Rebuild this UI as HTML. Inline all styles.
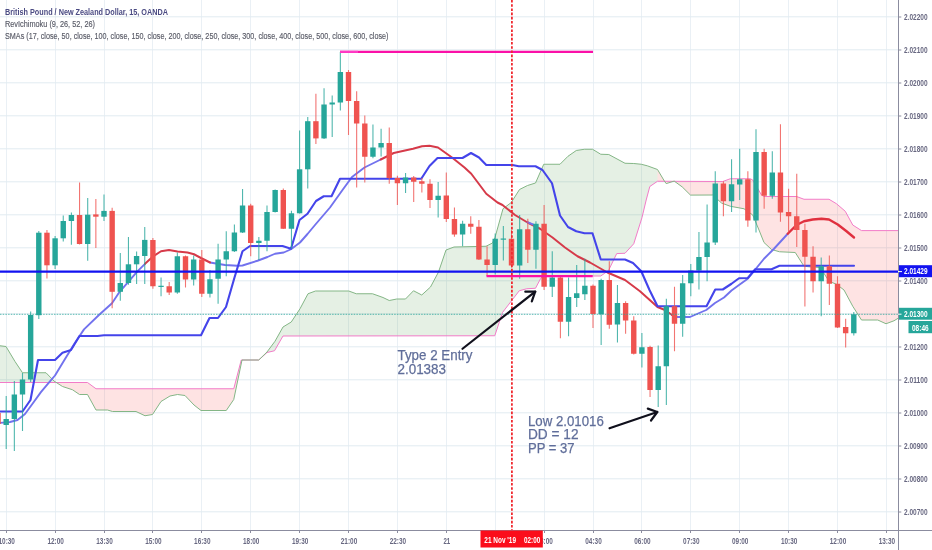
<!DOCTYPE html>
<html><head><meta charset="utf-8"><title>GBPNZD chart</title>
<style>
html,body{margin:0;padding:0;background:#fff;}
body{width:932px;height:550px;overflow:hidden;font-family:"Liberation Sans",sans-serif;}
svg{display:block;will-change:transform;}
text{font-family:"Liberation Sans",sans-serif;}
</style></head><body>
<svg width="932" height="550" viewBox="0 0 932 550">
<rect width="932" height="550" fill="#ffffff"/>
<defs>
<clipPath id="plot"><rect x="0" y="0" width="898.5" height="530.5"/></clipPath>
<clipPath id="cg"><rect x="-5" y="0" width="60.5" height="530"/><rect x="241" y="0" width="416.5" height="530"/></clipPath>
<clipPath id="cp"><rect x="55.5" y="0" width="185.5" height="530"/><rect x="657.5" y="0" width="241" height="530"/></clipPath>
</defs>

<g stroke="#eaf0f5" stroke-width="1" shape-rendering="crispEdges">
<line x1="6.5" y1="0" x2="6.5" y2="530"/>
<line x1="55.5" y1="0" x2="55.5" y2="530"/>
<line x1="104.5" y1="0" x2="104.5" y2="530"/>
<line x1="152.5" y1="0" x2="152.5" y2="530"/>
<line x1="201.5" y1="0" x2="201.5" y2="530"/>
<line x1="250.5" y1="0" x2="250.5" y2="530"/>
<line x1="299.5" y1="0" x2="299.5" y2="530"/>
<line x1="348.5" y1="0" x2="348.5" y2="530"/>
<line x1="397.5" y1="0" x2="397.5" y2="530"/>
<line x1="446.5" y1="0" x2="446.5" y2="530"/>
<line x1="495.5" y1="0" x2="495.5" y2="530"/>
<line x1="544.5" y1="0" x2="544.5" y2="530"/>
<line x1="593.5" y1="0" x2="593.5" y2="530"/>
<line x1="641.5" y1="0" x2="641.5" y2="530"/>
<line x1="690.5" y1="0" x2="690.5" y2="530"/>
<line x1="739.5" y1="0" x2="739.5" y2="530"/>
<line x1="788.5" y1="0" x2="788.5" y2="530"/>
<line x1="837.5" y1="0" x2="837.5" y2="530"/>
<line x1="886.5" y1="0" x2="886.5" y2="530"/>
<line x1="0" y1="16.80" x2="898" y2="16.80" shape-rendering="auto" stroke="#e2ebf1"/>
<line x1="0" y1="49.80" x2="898" y2="49.80" shape-rendering="auto" stroke="#e2ebf1"/>
<line x1="0" y1="82.80" x2="898" y2="82.80" shape-rendering="auto" stroke="#e2ebf1"/>
<line x1="0" y1="115.80" x2="898" y2="115.80" shape-rendering="auto" stroke="#e2ebf1"/>
<line x1="0" y1="148.80" x2="898" y2="148.80" shape-rendering="auto" stroke="#e2ebf1"/>
<line x1="0" y1="181.80" x2="898" y2="181.80" shape-rendering="auto" stroke="#e2ebf1"/>
<line x1="0" y1="214.80" x2="898" y2="214.80" shape-rendering="auto" stroke="#e2ebf1"/>
<line x1="0" y1="247.80" x2="898" y2="247.80" shape-rendering="auto" stroke="#e2ebf1"/>
<line x1="0" y1="280.80" x2="898" y2="280.80" shape-rendering="auto" stroke="#e2ebf1"/>
<line x1="0" y1="313.80" x2="898" y2="313.80" shape-rendering="auto" stroke="#e2ebf1"/>
<line x1="0" y1="346.80" x2="898" y2="346.80" shape-rendering="auto" stroke="#e2ebf1"/>
<line x1="0" y1="379.80" x2="898" y2="379.80" shape-rendering="auto" stroke="#e2ebf1"/>
<line x1="0" y1="412.80" x2="898" y2="412.80" shape-rendering="auto" stroke="#e2ebf1"/>
<line x1="0" y1="445.80" x2="898" y2="445.80" shape-rendering="auto" stroke="#e2ebf1"/>
<line x1="0" y1="478.80" x2="898" y2="478.80" shape-rendering="auto" stroke="#e2ebf1"/>
<line x1="0" y1="511.80" x2="898" y2="511.80" shape-rendering="auto" stroke="#e2ebf1"/>
</g>
<g clip-path="url(#plot)">
<polygon points="-2,345.5 6,346.5 15,361.5 22.5,372.75 46,372.75 54,381 62.5,386.5 72.5,389.75 79.5,394.5 87.5,394.5 96,410 107.5,410 112.5,411.5 136,411.5 145,415.75 152.5,414.5 161,401.5 170,396 177.5,394.5 185,395.5 194,405 201,410.5 226.25,410.5 233.75,399.5 242,360 258.75,360 267,352 275,341.25 283,327 291.25,322 300,308.75 308,293.75 315.5,291 348.75,291 356.25,293.75 372.5,293.75 383,297.5 389.25,300.5 396.75,299 405.5,299 413.5,290.75 421.75,295 430.5,287 438.5,272 446,250 454,247 486,246.25 492.5,243 495,237.5 503,208.75 511.25,202.5 519.5,189.5 527.5,185.5 535.5,183 543.75,164.25 560,164.25 568,156.25 576.25,150.5 584.5,149.25 592.5,149.25 600.75,154.25 608.75,154.5 625,163.25 633.75,163.5 641.25,164.25 647.3,165.8 657.5,169.5 664.4,181.1 666.2,183.6 674.2,181.1 682.2,186.9 690.5,195.1 712.75,195 721.5,203 730.25,206.25 744,208.75 752.75,215 759,230 764,242.5 771.5,249.5 779.5,251.75 795.25,252.5 804,266.25 811.5,267 820.25,267.5 829,281.25 836.5,284.25 844,290 852.75,306.25 861.5,320 877.75,320 886,323.75 894,320.75 898.5,318 898.5,230.6 861.5,230.6 852.75,225 845.25,211.25 836.5,203.75 829,199.25 804,199.25 796.5,196.5 764,196.5 761.5,195 752.75,180 750.25,178.75 730.25,178.75 722.75,181.5 657.5,181.25 649.8,186.5 646.2,200 642,217.5 633.75,243.75 625,253.25 616.7,253.6 608.5,270.5 600.75,276 543,276 540.5,278.75 535.5,288.25 526.75,288.75 519.25,290.75 502.5,312.5 494.75,335.75 283,336 274.5,350.75 267,352.5 258.75,360 241.25,360 233.75,388.75 96,388.75 87.5,382.5 -2,382.5" fill="rgb(82,155,75)" fill-opacity="0.15" clip-path="url(#cg)"/>
<polygon points="-2,345.5 6,346.5 15,361.5 22.5,372.75 46,372.75 54,381 62.5,386.5 72.5,389.75 79.5,394.5 87.5,394.5 96,410 107.5,410 112.5,411.5 136,411.5 145,415.75 152.5,414.5 161,401.5 170,396 177.5,394.5 185,395.5 194,405 201,410.5 226.25,410.5 233.75,399.5 242,360 258.75,360 267,352 275,341.25 283,327 291.25,322 300,308.75 308,293.75 315.5,291 348.75,291 356.25,293.75 372.5,293.75 383,297.5 389.25,300.5 396.75,299 405.5,299 413.5,290.75 421.75,295 430.5,287 438.5,272 446,250 454,247 486,246.25 492.5,243 495,237.5 503,208.75 511.25,202.5 519.5,189.5 527.5,185.5 535.5,183 543.75,164.25 560,164.25 568,156.25 576.25,150.5 584.5,149.25 592.5,149.25 600.75,154.25 608.75,154.5 625,163.25 633.75,163.5 641.25,164.25 647.3,165.8 657.5,169.5 664.4,181.1 666.2,183.6 674.2,181.1 682.2,186.9 690.5,195.1 712.75,195 721.5,203 730.25,206.25 744,208.75 752.75,215 759,230 764,242.5 771.5,249.5 779.5,251.75 795.25,252.5 804,266.25 811.5,267 820.25,267.5 829,281.25 836.5,284.25 844,290 852.75,306.25 861.5,320 877.75,320 886,323.75 894,320.75 898.5,318 898.5,230.6 861.5,230.6 852.75,225 845.25,211.25 836.5,203.75 829,199.25 804,199.25 796.5,196.5 764,196.5 761.5,195 752.75,180 750.25,178.75 730.25,178.75 722.75,181.5 657.5,181.25 649.8,186.5 646.2,200 642,217.5 633.75,243.75 625,253.25 616.7,253.6 608.5,270.5 600.75,276 543,276 540.5,278.75 535.5,288.25 526.75,288.75 519.25,290.75 502.5,312.5 494.75,335.75 283,336 274.5,350.75 267,352.5 258.75,360 241.25,360 233.75,388.75 96,388.75 87.5,382.5 -2,382.5" fill="rgb(248,68,68)" fill-opacity="0.15" clip-path="url(#cp)"/>
<path d="M-2 382.5 L87.5 382.5 L96 388.75 L233.75 388.75 L241.25 360 L258.75 360 L267 352.5 L274.5 350.75 L283 336 L494.75 335.75 L502.5 312.5 L519.25 290.75 L526.75 288.75 L535.5 288.25 L540.5 278.75 L543 276 L600.75 276 L608.5 270.5 L616.7 253.6 L625 253.25 L633.75 243.75 L642 217.5 L646.2 200 L649.8 186.5 L657.5 181.25 L722.75 181.5 L730.25 178.75 L750.25 178.75 L752.75 180 L761.5 195 L764 196.5 L796.5 196.5 L804 199.25 L829 199.25 L836.5 203.75 L845.25 211.25 L852.75 225 L861.5 230.6 L898.5 230.6" fill="none" stroke="#f27cc8" stroke-width="1" stroke-linejoin="round"/>
<path d="M-2 345.5 L6 346.5 L15 361.5 L22.5 372.75 L46 372.75 L54 381 L62.5 386.5 L72.5 389.75 L79.5 394.5 L87.5 394.5 L96 410 L107.5 410 L112.5 411.5 L136 411.5 L145 415.75 L152.5 414.5 L161 401.5 L170 396 L177.5 394.5 L185 395.5 L194 405 L201 410.5 L226.25 410.5 L233.75 399.5 L242 360 L258.75 360 L267 352 L275 341.25 L283 327 L291.25 322 L300 308.75 L308 293.75 L315.5 291 L348.75 291 L356.25 293.75 L372.5 293.75 L383 297.5 L389.25 300.5 L396.75 299 L405.5 299 L413.5 290.75 L421.75 295 L430.5 287 L438.5 272 L446 250 L454 247 L486 246.25 L492.5 243 L495 237.5 L503 208.75 L511.25 202.5 L519.5 189.5 L527.5 185.5 L535.5 183 L543.75 164.25 L560 164.25 L568 156.25 L576.25 150.5 L584.5 149.25 L592.5 149.25 L600.75 154.25 L608.75 154.5 L625 163.25 L633.75 163.5 L641.25 164.25 L647.3 165.8 L657.5 169.5 L664.4 181.1 L666.2 183.6 L674.2 181.1 L682.2 186.9 L690.5 195.1 L712.75 195 L721.5 203 L730.25 206.25 L744 208.75 L752.75 215 L759 230 L764 242.5 L771.5 249.5 L779.5 251.75 L795.25 252.5 L804 266.25 L811.5 267 L820.25 267.5 L829 281.25 L836.5 284.25 L844 290 L852.75 306.25 L861.5 320 L877.75 320 L886 323.75 L894 320.75 L898.5 318" fill="none" stroke="#84b686" stroke-width="1" stroke-linejoin="round"/>
<path d="M-2 423 L10 422 L17.5 420 L25 414 L32.7 403.5 L40.9 392.1 L49.1 382.3 L55 375.5 L65 359 L75 342.75 L84 329.4 L99.2 314.7 L112 303.2 L119.6 291.8 L128.5 281.6 L137.4 271.4 L145 263.8" fill="none" stroke="#7272ee" stroke-width="1.9" stroke-linejoin="round" stroke-linecap="round"/>
<path d="M210 262.5 L225 265 L237.5 265.75 L242.5 265.5 L257.5 260.75 L267.5 257 L275 253.75 L283.75 252.5 L291 249.25 L300 242.5 L307.5 234 L315 225 L330 207.5 L342.5 190 L352 177 L364.5 167.5 L380.75 159.5" fill="none" stroke="#7272ee" stroke-width="1.9" stroke-linejoin="round" stroke-linecap="round"/>
<path d="M672 315 L677.5 317 L690 317 L697.5 313.75 L706.25 310 L715 303 L724 297.5 L731.5 290.5 L739 285 L747.75 278.75 L755.25 269.5 L764 258.75 L774 248.75 L787.75 233.75" fill="none" stroke="#7272ee" stroke-width="1.9" stroke-linejoin="round" stroke-linecap="round"/>
<path d="M145 263.8 L152.7 256.7 L161 251.25 L169 250 L177.5 251.5 L187.5 252.5 L194 254.25 L201 258 L210 262.5" fill="none" stroke="#d63a49" stroke-width="2" stroke-linejoin="round" stroke-linecap="round"/>
<path d="M380.75 159.5 L393.75 153 L405 150.5 L413 148.75 L422 146.25 L429.5 145.75 L438 147.5 L452 157.5 L464.5 167.5 L471.25 173.75 L486.25 193.75 L497.5 202.5 L502.5 205 L515 215 L527.5 222.5 L540 228.75 L552.5 237.5 L565 247.5 L577.5 256.25 L590 262.5 L607.5 272.5 L625 280 L640 291.25 L657.5 307 L665 310 L672 315" fill="none" stroke="#d63a49" stroke-width="2" stroke-linejoin="round" stroke-linecap="round"/>
<path d="M787.75 233.75 L796.5 225 L804 221.25 L812.75 219.5 L821.5 218.75 L829 219.5 L837.75 224.5 L846.5 231.25 L854 237.5" fill="none" stroke="#e0303f" stroke-width="2.4" stroke-linejoin="round" stroke-linecap="round"/>
<line x1="527.5" y1="222.3" x2="533.5" y2="224.6" stroke="#7272ee" stroke-width="2" stroke-linecap="round"/>
<path d="M-2 411.5 L22.5 411.5 L30.5 400 L38 360 L55 360 L62.5 352.7 L71 350 L79.5 336 L97.5 336 L104 335.25 L201 335.25 L209.5 318 L218 318 L226 307 L234.5 277.5 L242.5 251.25 L250 246 L282.5 246 L291 248.75 L299.5 220 L307.5 213.75 L316 201 L323.75 196.25 L331.5 196.25 L340 178.75 L421.25 178.75 L429.5 166 L437.5 158 L462.5 158 L471 153 L479 157.5 L486.25 165 L512.5 165 L518.75 166.25 L535.5 166.25 L542.5 170 L552 183.25 L560 215.5 L568 227 L576.25 231.25 L584.5 233.25 L592.5 233.25 L600.75 259.5 L625 259.5 L633 263 L641.25 271.25 L649.5 290 L657.5 306.25 L706.5 306.25 L715.25 289.5 L722.75 289.5 L731.5 283.75 L739 278.25 L747.75 278 L755.25 269.25 L771.5 269.25 L779.5 265.75 L854 265.75" fill="none" stroke="#4444ea" stroke-width="2.1" stroke-linejoin="round" stroke-linecap="round"/>
<line x1="-1.95" y1="410" x2="-1.95" y2="428" stroke="#ef5350" stroke-width="1.1" opacity="0.8"/>
<rect x="-4.65" y="413" width="5.4" height="11" fill="#ef5350"/>
<line x1="6.20" y1="396" x2="6.20" y2="449" stroke="#26a69a" stroke-width="1.1" opacity="0.8"/>
<rect x="3.50" y="419" width="5.4" height="6" fill="#26a69a"/>
<line x1="14.35" y1="381" x2="14.35" y2="451" stroke="#26a69a" stroke-width="1.1" opacity="0.8"/>
<rect x="11.65" y="394.5" width="5.4" height="24.5" fill="#26a69a"/>
<line x1="22.50" y1="373" x2="22.50" y2="431" stroke="#26a69a" stroke-width="1.1" opacity="0.8"/>
<rect x="19.80" y="379.5" width="5.4" height="15" fill="#26a69a"/>
<line x1="30.65" y1="311.5" x2="30.65" y2="382" stroke="#26a69a" stroke-width="1.1" opacity="0.8"/>
<rect x="27.95" y="315" width="5.4" height="64.5" fill="#26a69a"/>
<line x1="38.80" y1="231" x2="38.80" y2="319" stroke="#26a69a" stroke-width="1.1" opacity="0.8"/>
<rect x="36.10" y="232.7" width="5.4" height="82.5" fill="#26a69a"/>
<line x1="46.95" y1="230" x2="46.95" y2="278.5" stroke="#ef5350" stroke-width="1.1" opacity="0.8"/>
<rect x="44.25" y="232.7" width="5.4" height="32.6" fill="#ef5350"/>
<line x1="55.10" y1="236" x2="55.10" y2="269" stroke="#26a69a" stroke-width="1.1" opacity="0.8"/>
<rect x="52.40" y="238.3" width="5.4" height="27" fill="#26a69a"/>
<line x1="63.25" y1="215.4" x2="63.25" y2="241.4" stroke="#26a69a" stroke-width="1.1" opacity="0.8"/>
<rect x="60.55" y="221" width="5.4" height="17.3" fill="#26a69a"/>
<line x1="71.40" y1="212.4" x2="71.40" y2="244.7" stroke="#26a69a" stroke-width="1.1" opacity="0.8"/>
<rect x="68.70" y="215" width="5.4" height="6" fill="#26a69a"/>
<line x1="79.55" y1="182.5" x2="79.55" y2="244.5" stroke="#ef5350" stroke-width="1.1" opacity="0.8"/>
<rect x="76.85" y="215" width="5.4" height="29" fill="#ef5350"/>
<line x1="87.70" y1="198" x2="87.70" y2="260.7" stroke="#26a69a" stroke-width="1.1" opacity="0.8"/>
<rect x="85.00" y="214.7" width="5.4" height="29.3" fill="#26a69a"/>
<line x1="95.85" y1="199" x2="95.85" y2="248" stroke="#ef5350" stroke-width="1.1" opacity="0.8"/>
<rect x="93.15" y="214.4" width="5.4" height="2.3" fill="#ef5350"/>
<line x1="104.00" y1="194.6" x2="104.00" y2="221" stroke="#26a69a" stroke-width="1.1" opacity="0.8"/>
<rect x="101.30" y="210.9" width="5.4" height="5.8" fill="#26a69a"/>
<line x1="112.15" y1="207.8" x2="112.15" y2="308.3" stroke="#ef5350" stroke-width="1.1" opacity="0.8"/>
<rect x="109.45" y="210.9" width="5.4" height="80.9" fill="#ef5350"/>
<line x1="120.30" y1="253" x2="120.30" y2="300.7" stroke="#26a69a" stroke-width="1.1" opacity="0.8"/>
<rect x="117.60" y="283" width="5.4" height="8.8" fill="#26a69a"/>
<line x1="128.45" y1="237" x2="128.45" y2="284.7" stroke="#26a69a" stroke-width="1.1" opacity="0.8"/>
<rect x="125.75" y="264.3" width="5.4" height="18.7" fill="#26a69a"/>
<line x1="136.60" y1="251.6" x2="136.60" y2="284" stroke="#26a69a" stroke-width="1.1" opacity="0.8"/>
<rect x="133.90" y="256" width="5.4" height="8.3" fill="#26a69a"/>
<line x1="144.75" y1="227" x2="144.75" y2="284" stroke="#26a69a" stroke-width="1.1" opacity="0.8"/>
<rect x="142.05" y="239.9" width="5.4" height="16.1" fill="#26a69a"/>
<line x1="152.90" y1="238" x2="152.90" y2="288.75" stroke="#ef5350" stroke-width="1.1" opacity="0.8"/>
<rect x="150.20" y="240" width="5.4" height="46.25" fill="#ef5350"/>
<line x1="161.05" y1="277.5" x2="161.05" y2="296.25" stroke="#26a69a" stroke-width="1.1" opacity="0.8"/>
<rect x="158.35" y="285.75" width="5.4" height="1.2" fill="#26a69a"/>
<line x1="169.20" y1="282" x2="169.20" y2="295" stroke="#ef5350" stroke-width="1.1" opacity="0.8"/>
<rect x="166.50" y="286.25" width="5.4" height="6.25" fill="#ef5350"/>
<line x1="177.35" y1="252.5" x2="177.35" y2="293.75" stroke="#26a69a" stroke-width="1.1" opacity="0.8"/>
<rect x="174.65" y="256.25" width="5.4" height="36.25" fill="#26a69a"/>
<line x1="185.50" y1="255.5" x2="185.50" y2="287.5" stroke="#ef5350" stroke-width="1.1" opacity="0.8"/>
<rect x="182.80" y="256.25" width="5.4" height="23.25" fill="#ef5350"/>
<line x1="193.65" y1="255.5" x2="193.65" y2="285.5" stroke="#26a69a" stroke-width="1.1" opacity="0.8"/>
<rect x="190.95" y="259.5" width="5.4" height="20" fill="#26a69a"/>
<line x1="201.80" y1="250" x2="201.80" y2="297" stroke="#ef5350" stroke-width="1.1" opacity="0.8"/>
<rect x="199.10" y="259.5" width="5.4" height="34.25" fill="#ef5350"/>
<line x1="209.95" y1="270" x2="209.95" y2="297.5" stroke="#26a69a" stroke-width="1.1" opacity="0.8"/>
<rect x="207.25" y="279.25" width="5.4" height="14.5" fill="#26a69a"/>
<line x1="218.10" y1="243.75" x2="218.10" y2="303.75" stroke="#26a69a" stroke-width="1.1" opacity="0.8"/>
<rect x="215.40" y="259.5" width="5.4" height="19.25" fill="#26a69a"/>
<line x1="226.25" y1="231.25" x2="226.25" y2="276.25" stroke="#26a69a" stroke-width="1.1" opacity="0.8"/>
<rect x="223.55" y="251.25" width="5.4" height="8.25" fill="#26a69a"/>
<line x1="234.40" y1="224.5" x2="234.40" y2="252" stroke="#26a69a" stroke-width="1.1" opacity="0.8"/>
<rect x="231.70" y="232.5" width="5.4" height="18.75" fill="#26a69a"/>
<line x1="242.55" y1="189" x2="242.55" y2="233" stroke="#26a69a" stroke-width="1.1" opacity="0.8"/>
<rect x="239.85" y="205.5" width="5.4" height="27" fill="#26a69a"/>
<line x1="250.70" y1="203.75" x2="250.70" y2="256.25" stroke="#ef5350" stroke-width="1.1" opacity="0.8"/>
<rect x="248.00" y="205.5" width="5.4" height="37.5" fill="#ef5350"/>
<line x1="258.85" y1="237" x2="258.85" y2="260" stroke="#26a69a" stroke-width="1.1" opacity="0.8"/>
<rect x="256.15" y="240.75" width="5.4" height="2.25" fill="#26a69a"/>
<line x1="267.00" y1="205.5" x2="267.00" y2="251.25" stroke="#26a69a" stroke-width="1.1" opacity="0.8"/>
<rect x="264.30" y="212" width="5.4" height="28.75" fill="#26a69a"/>
<line x1="275.15" y1="189.5" x2="275.15" y2="212.5" stroke="#26a69a" stroke-width="1.1" opacity="0.8"/>
<rect x="272.45" y="190" width="5.4" height="22" fill="#26a69a"/>
<line x1="283.30" y1="188.4" x2="283.30" y2="229" stroke="#ef5350" stroke-width="1.1" opacity="0.8"/>
<rect x="280.60" y="190" width="5.4" height="38.75" fill="#ef5350"/>
<line x1="291.45" y1="210.8" x2="291.45" y2="248.75" stroke="#26a69a" stroke-width="1.1" opacity="0.8"/>
<rect x="288.75" y="213.3" width="5.4" height="15.45" fill="#26a69a"/>
<line x1="299.60" y1="130.4" x2="299.60" y2="213.5" stroke="#26a69a" stroke-width="1.1" opacity="0.8"/>
<rect x="296.90" y="169.3" width="5.4" height="44" fill="#26a69a"/>
<line x1="307.75" y1="117" x2="307.75" y2="188.4" stroke="#26a69a" stroke-width="1.1" opacity="0.8"/>
<rect x="305.05" y="121.2" width="5.4" height="48.1" fill="#26a69a"/>
<line x1="315.90" y1="93.75" x2="315.90" y2="144" stroke="#ef5350" stroke-width="1.1" opacity="0.8"/>
<rect x="313.20" y="121.2" width="5.4" height="17.2" fill="#ef5350"/>
<line x1="324.05" y1="88.25" x2="324.05" y2="139" stroke="#26a69a" stroke-width="1.1" opacity="0.8"/>
<rect x="321.35" y="104.5" width="5.4" height="33.9" fill="#26a69a"/>
<line x1="332.20" y1="95.5" x2="332.20" y2="137" stroke="#26a69a" stroke-width="1.1" opacity="0.8"/>
<rect x="329.50" y="102.5" width="5.4" height="2" fill="#26a69a"/>
<line x1="340.35" y1="52" x2="340.35" y2="110.5" stroke="#26a69a" stroke-width="1.1" opacity="0.8"/>
<rect x="337.65" y="72" width="5.4" height="30.5" fill="#26a69a"/>
<line x1="348.50" y1="70" x2="348.50" y2="135" stroke="#ef5350" stroke-width="1.1" opacity="0.8"/>
<rect x="345.80" y="72" width="5.4" height="29" fill="#ef5350"/>
<line x1="356.65" y1="91.25" x2="356.65" y2="187.5" stroke="#ef5350" stroke-width="1.1" opacity="0.8"/>
<rect x="353.95" y="101" width="5.4" height="22.5" fill="#ef5350"/>
<line x1="364.80" y1="115.5" x2="364.80" y2="182.5" stroke="#ef5350" stroke-width="1.1" opacity="0.8"/>
<rect x="362.10" y="123.5" width="5.4" height="33.25" fill="#ef5350"/>
<line x1="372.95" y1="124.5" x2="372.95" y2="158.25" stroke="#26a69a" stroke-width="1.1" opacity="0.8"/>
<rect x="370.25" y="147.5" width="5.4" height="9.25" fill="#26a69a"/>
<line x1="381.10" y1="128.75" x2="381.10" y2="156.5" stroke="#26a69a" stroke-width="1.1" opacity="0.8"/>
<rect x="378.40" y="143" width="5.4" height="4.5" fill="#26a69a"/>
<line x1="389.25" y1="127.5" x2="389.25" y2="183.75" stroke="#ef5350" stroke-width="1.1" opacity="0.8"/>
<rect x="386.55" y="143" width="5.4" height="35" fill="#ef5350"/>
<line x1="397.40" y1="175.75" x2="397.40" y2="205" stroke="#ef5350" stroke-width="1.1" opacity="0.8"/>
<rect x="394.70" y="178" width="5.4" height="5.25" fill="#ef5350"/>
<line x1="405.55" y1="173" x2="405.55" y2="193" stroke="#26a69a" stroke-width="1.1" opacity="0.8"/>
<rect x="402.85" y="177.5" width="5.4" height="5.75" fill="#26a69a"/>
<line x1="413.70" y1="176" x2="413.70" y2="202" stroke="#ef5350" stroke-width="1.1" opacity="0.8"/>
<rect x="411.00" y="177.5" width="5.4" height="4.25" fill="#ef5350"/>
<line x1="421.85" y1="178" x2="421.85" y2="192.5" stroke="#ef5350" stroke-width="1.1" opacity="0.8"/>
<rect x="419.15" y="181.25" width="5.4" height="2.5" fill="#ef5350"/>
<line x1="430.00" y1="179.25" x2="430.00" y2="208" stroke="#ef5350" stroke-width="1.1" opacity="0.8"/>
<rect x="427.30" y="183.75" width="5.4" height="16.25" fill="#ef5350"/>
<line x1="438.15" y1="182" x2="438.15" y2="217.5" stroke="#26a69a" stroke-width="1.1" opacity="0.8"/>
<rect x="435.45" y="195.75" width="5.4" height="4.25" fill="#26a69a"/>
<line x1="446.30" y1="172.5" x2="446.30" y2="222" stroke="#ef5350" stroke-width="1.1" opacity="0.8"/>
<rect x="443.60" y="195.5" width="5.4" height="23.5" fill="#ef5350"/>
<line x1="454.45" y1="207.5" x2="454.45" y2="236.75" stroke="#ef5350" stroke-width="1.1" opacity="0.8"/>
<rect x="451.75" y="219" width="5.4" height="15.5" fill="#ef5350"/>
<line x1="462.60" y1="220.75" x2="462.60" y2="246.25" stroke="#26a69a" stroke-width="1.1" opacity="0.8"/>
<rect x="459.90" y="223.75" width="5.4" height="10.75" fill="#26a69a"/>
<line x1="470.75" y1="216.25" x2="470.75" y2="233.75" stroke="#ef5350" stroke-width="1.1" opacity="0.8"/>
<rect x="468.05" y="223.75" width="5.4" height="3" fill="#ef5350"/>
<line x1="478.90" y1="220" x2="478.90" y2="260" stroke="#ef5350" stroke-width="1.1" opacity="0.8"/>
<rect x="476.20" y="226.75" width="5.4" height="32.75" fill="#ef5350"/>
<line x1="487.05" y1="246.25" x2="487.05" y2="276" stroke="#ef5350" stroke-width="1.1" opacity="0.8"/>
<rect x="484.35" y="259.5" width="5.4" height="5.5" fill="#ef5350"/>
<line x1="495.20" y1="233.5" x2="495.20" y2="274.5" stroke="#26a69a" stroke-width="1.1" opacity="0.8"/>
<rect x="492.50" y="238.75" width="5.4" height="26.25" fill="#26a69a"/>
<line x1="503.35" y1="226" x2="503.35" y2="260.5" stroke="#26a69a" stroke-width="1.1" opacity="0.8"/>
<rect x="500.65" y="238.5" width="5.4" height="1.2" fill="#26a69a"/>
<line x1="511.50" y1="230" x2="511.50" y2="267.5" stroke="#ef5350" stroke-width="1.1" opacity="0.8"/>
<rect x="508.80" y="238.75" width="5.4" height="26.75" fill="#ef5350"/>
<line x1="519.65" y1="215" x2="519.65" y2="278.75" stroke="#26a69a" stroke-width="1.1" opacity="0.8"/>
<rect x="516.95" y="229.25" width="5.4" height="36.25" fill="#26a69a"/>
<line x1="527.80" y1="218.75" x2="527.80" y2="263" stroke="#ef5350" stroke-width="1.1" opacity="0.8"/>
<rect x="525.10" y="229.25" width="5.4" height="20.5" fill="#ef5350"/>
<line x1="535.95" y1="221.25" x2="535.95" y2="268.75" stroke="#26a69a" stroke-width="1.1" opacity="0.8"/>
<rect x="533.25" y="223.75" width="5.4" height="26" fill="#26a69a"/>
<line x1="544.10" y1="205" x2="544.10" y2="290" stroke="#ef5350" stroke-width="1.1" opacity="0.8"/>
<rect x="541.40" y="223.75" width="5.4" height="63" fill="#ef5350"/>
<line x1="552.25" y1="251.25" x2="552.25" y2="297" stroke="#26a69a" stroke-width="1.1" opacity="0.8"/>
<rect x="549.55" y="277.5" width="5.4" height="9.25" fill="#26a69a"/>
<line x1="560.40" y1="276" x2="560.40" y2="338.25" stroke="#ef5350" stroke-width="1.1" opacity="0.8"/>
<rect x="557.70" y="277.5" width="5.4" height="44.25" fill="#ef5350"/>
<line x1="568.55" y1="277.5" x2="568.55" y2="336.25" stroke="#26a69a" stroke-width="1.1" opacity="0.8"/>
<rect x="565.85" y="297" width="5.4" height="24.75" fill="#26a69a"/>
<line x1="576.70" y1="265" x2="576.70" y2="307" stroke="#26a69a" stroke-width="1.1" opacity="0.8"/>
<rect x="574.00" y="293.25" width="5.4" height="4.75" fill="#26a69a"/>
<line x1="584.85" y1="258.75" x2="584.85" y2="300" stroke="#26a69a" stroke-width="1.1" opacity="0.8"/>
<rect x="582.15" y="285.75" width="5.4" height="8.5" fill="#26a69a"/>
<line x1="593.00" y1="284.5" x2="593.00" y2="328" stroke="#ef5350" stroke-width="1.1" opacity="0.8"/>
<rect x="590.30" y="285.75" width="5.4" height="28.25" fill="#ef5350"/>
<line x1="601.15" y1="278.75" x2="601.15" y2="345" stroke="#26a69a" stroke-width="1.1" opacity="0.8"/>
<rect x="598.45" y="280" width="5.4" height="34.25" fill="#26a69a"/>
<line x1="609.30" y1="261.25" x2="609.30" y2="328.75" stroke="#ef5350" stroke-width="1.1" opacity="0.8"/>
<rect x="606.60" y="280" width="5.4" height="44.75" fill="#ef5350"/>
<line x1="617.45" y1="285" x2="617.45" y2="342.5" stroke="#26a69a" stroke-width="1.1" opacity="0.8"/>
<rect x="614.75" y="303" width="5.4" height="21.5" fill="#26a69a"/>
<line x1="625.60" y1="301.25" x2="625.60" y2="333.75" stroke="#ef5350" stroke-width="1.1" opacity="0.8"/>
<rect x="622.90" y="303" width="5.4" height="17.5" fill="#ef5350"/>
<line x1="633.75" y1="316.25" x2="633.75" y2="354.5" stroke="#ef5350" stroke-width="1.1" opacity="0.8"/>
<rect x="631.05" y="320.5" width="5.4" height="33.25" fill="#ef5350"/>
<line x1="641.90" y1="333" x2="641.90" y2="367.5" stroke="#26a69a" stroke-width="1.1" opacity="0.8"/>
<rect x="639.20" y="347.25" width="5.4" height="6.5" fill="#26a69a"/>
<line x1="650.05" y1="345.75" x2="650.05" y2="397" stroke="#ef5350" stroke-width="1.1" opacity="0.8"/>
<rect x="647.35" y="347" width="5.4" height="43" fill="#ef5350"/>
<line x1="658.20" y1="345.5" x2="658.20" y2="407" stroke="#26a69a" stroke-width="1.1" opacity="0.8"/>
<rect x="655.50" y="366.25" width="5.4" height="23.75" fill="#26a69a"/>
<line x1="666.35" y1="298.75" x2="666.35" y2="405" stroke="#26a69a" stroke-width="1.1" opacity="0.8"/>
<rect x="663.65" y="306.25" width="5.4" height="60" fill="#26a69a"/>
<line x1="674.50" y1="286.75" x2="674.50" y2="351.25" stroke="#ef5350" stroke-width="1.1" opacity="0.8"/>
<rect x="671.80" y="306.25" width="5.4" height="17.5" fill="#ef5350"/>
<line x1="682.65" y1="275" x2="682.65" y2="336.75" stroke="#26a69a" stroke-width="1.1" opacity="0.8"/>
<rect x="679.95" y="283.25" width="5.4" height="40.5" fill="#26a69a"/>
<line x1="690.80" y1="264" x2="690.80" y2="296.25" stroke="#26a69a" stroke-width="1.1" opacity="0.8"/>
<rect x="688.10" y="270.5" width="5.4" height="12.75" fill="#26a69a"/>
<line x1="698.95" y1="232" x2="698.95" y2="289.5" stroke="#26a69a" stroke-width="1.1" opacity="0.8"/>
<rect x="696.25" y="257" width="5.4" height="13.5" fill="#26a69a"/>
<line x1="707.10" y1="204.5" x2="707.10" y2="281.25" stroke="#26a69a" stroke-width="1.1" opacity="0.8"/>
<rect x="704.40" y="242.5" width="5.4" height="14.5" fill="#26a69a"/>
<line x1="715.25" y1="171.25" x2="715.25" y2="245" stroke="#26a69a" stroke-width="1.1" opacity="0.8"/>
<rect x="712.55" y="183.5" width="5.4" height="59" fill="#26a69a"/>
<line x1="723.40" y1="181.25" x2="723.40" y2="216.25" stroke="#ef5350" stroke-width="1.1" opacity="0.8"/>
<rect x="720.70" y="183.5" width="5.4" height="17.75" fill="#ef5350"/>
<line x1="731.55" y1="159.25" x2="731.55" y2="212" stroke="#26a69a" stroke-width="1.1" opacity="0.8"/>
<rect x="728.85" y="184.25" width="5.4" height="17" fill="#26a69a"/>
<line x1="739.70" y1="148.75" x2="739.70" y2="200" stroke="#26a69a" stroke-width="1.1" opacity="0.8"/>
<rect x="737.00" y="179.25" width="5.4" height="5.25" fill="#26a69a"/>
<line x1="747.85" y1="171.25" x2="747.85" y2="226.75" stroke="#ef5350" stroke-width="1.1" opacity="0.8"/>
<rect x="745.15" y="179.25" width="5.4" height="41.25" fill="#ef5350"/>
<line x1="756.00" y1="129.25" x2="756.00" y2="232.5" stroke="#26a69a" stroke-width="1.1" opacity="0.8"/>
<rect x="753.30" y="152" width="5.4" height="68.5" fill="#26a69a"/>
<line x1="764.15" y1="148.75" x2="764.15" y2="208.75" stroke="#ef5350" stroke-width="1.1" opacity="0.8"/>
<rect x="761.45" y="152" width="5.4" height="43.75" fill="#ef5350"/>
<line x1="772.30" y1="151.25" x2="772.30" y2="198.75" stroke="#26a69a" stroke-width="1.1" opacity="0.8"/>
<rect x="769.60" y="172.5" width="5.4" height="23.25" fill="#26a69a"/>
<line x1="780.45" y1="124.25" x2="780.45" y2="221.75" stroke="#ef5350" stroke-width="1.1" opacity="0.8"/>
<rect x="777.75" y="172.5" width="5.4" height="40" fill="#ef5350"/>
<line x1="788.60" y1="188.75" x2="788.60" y2="232.5" stroke="#ef5350" stroke-width="1.1" opacity="0.8"/>
<rect x="785.90" y="212" width="5.4" height="4.25" fill="#ef5350"/>
<line x1="796.75" y1="173.75" x2="796.75" y2="247" stroke="#ef5350" stroke-width="1.1" opacity="0.8"/>
<rect x="794.05" y="216.25" width="5.4" height="13.75" fill="#ef5350"/>
<line x1="804.90" y1="223.75" x2="804.90" y2="306.5" stroke="#ef5350" stroke-width="1.1" opacity="0.8"/>
<rect x="802.20" y="230" width="5.4" height="26.75" fill="#ef5350"/>
<line x1="813.05" y1="246.25" x2="813.05" y2="292.5" stroke="#ef5350" stroke-width="1.1" opacity="0.8"/>
<rect x="810.35" y="256.75" width="5.4" height="24.5" fill="#ef5350"/>
<line x1="821.20" y1="257.5" x2="821.20" y2="316.25" stroke="#26a69a" stroke-width="1.1" opacity="0.8"/>
<rect x="818.50" y="266.25" width="5.4" height="15" fill="#26a69a"/>
<line x1="829.35" y1="255.5" x2="829.35" y2="305" stroke="#ef5350" stroke-width="1.1" opacity="0.8"/>
<rect x="826.65" y="266.25" width="5.4" height="17.5" fill="#ef5350"/>
<line x1="837.50" y1="276.25" x2="837.50" y2="328" stroke="#ef5350" stroke-width="1.1" opacity="0.8"/>
<rect x="834.80" y="283.75" width="5.4" height="43.75" fill="#ef5350"/>
<line x1="845.65" y1="318.75" x2="845.65" y2="347.5" stroke="#ef5350" stroke-width="1.1" opacity="0.8"/>
<rect x="842.95" y="327" width="5.4" height="6.25" fill="#ef5350"/>
<line x1="853.80" y1="312" x2="853.80" y2="335.5" stroke="#26a69a" stroke-width="1.1" opacity="0.8"/>
<rect x="851.10" y="314.25" width="5.4" height="19" fill="#26a69a"/>
<line x1="340" y1="51.85" x2="593" y2="51.85" stroke="#fb10a8" stroke-width="2.1"/>
<line x1="340" y1="51.85" x2="358" y2="51.85" stroke="#ff3cc6" stroke-width="2.1"/>
<line x1="486.5" y1="276.1" x2="592.7" y2="276.1" stroke="#fb10a8" stroke-width="2.4"/>
<line x1="0" y1="314.3" x2="898" y2="314.3" stroke="#26a69a" stroke-width="1" stroke-dasharray="1.5 1.2" opacity="0.75"/>
<line x1="0" y1="271.6" x2="898" y2="271.6" stroke="#1212f0" stroke-width="2.4"/>
<line x1="511.9" y1="0" x2="511.9" y2="530" stroke="#f02a30" stroke-width="1.8" stroke-dasharray="2.6 1.6"/>
<g stroke="#10101c" stroke-width="2.2" fill="none" stroke-linecap="round" stroke-linejoin="round"><line x1="462.5" y1="348.75" x2="535.2" y2="291.6"/><polyline points="525.3,291.7 535.2,291.6 531.8,301.4"/></g>
<g stroke="#10101c" stroke-width="2.2" fill="none" stroke-linecap="round" stroke-linejoin="round"><line x1="609.5" y1="428.25" x2="657.3" y2="412"/><polyline points="647.8,408.6 657.3,412 651,420.5"/></g>
</g>
<g fill="#606e9a" font-size="14.4" stroke="#606e9a" stroke-width="0.25">
<text x="397.5" y="359.8" textLength="75" lengthAdjust="spacingAndGlyphs">Type 2 Entry</text>
<text x="397.5" y="374.2" textLength="48.5" lengthAdjust="spacingAndGlyphs">2.01383</text>
<text x="528" y="425.6" textLength="75.8" lengthAdjust="spacingAndGlyphs">Low 2.01016</text>
<text x="528" y="439.4" textLength="50.5" lengthAdjust="spacingAndGlyphs">DD = 12</text>
<text x="528" y="453.3" textLength="46.5" lengthAdjust="spacingAndGlyphs">PP = 37</text>
</g>
<text x="5" y="14.7" font-size="9" font-weight="bold" fill="#4b4b83" textLength="163" lengthAdjust="spacingAndGlyphs">British Pound / New Zealand Dollar, 15, OANDA</text>
<text x="5" y="26.9" font-size="9.2" fill="#585a66" stroke="#585a66" stroke-width="0.15" textLength="90" lengthAdjust="spacingAndGlyphs">RevIchimoku (9, 26, 52, 26)</text>
<text x="5" y="38.9" font-size="9.2" fill="#585a66" stroke="#585a66" stroke-width="0.15" textLength="383.5" lengthAdjust="spacingAndGlyphs">SMAs (17, close, 50, close, 100, close, 150, close, 200, close, 250, close, 300, close, 400, close, 500, close, 600, close)</text>
<rect x="898" y="0" width="34" height="550" fill="#ffffff"/>
<rect x="0" y="531" width="932" height="19" fill="#ffffff"/>
<g stroke="#8b8c9f" stroke-width="1" shape-rendering="crispEdges"><line x1="898.5" y1="0" x2="898.5" y2="550"/><line x1="0" y1="530.5" x2="932" y2="530.5"/>
<line x1="899" y1="17.0" x2="901.3" y2="17.0" shape-rendering="auto"/>
<line x1="899" y1="50.0" x2="901.3" y2="50.0" shape-rendering="auto"/>
<line x1="899" y1="83.0" x2="901.3" y2="83.0" shape-rendering="auto"/>
<line x1="899" y1="116.0" x2="901.3" y2="116.0" shape-rendering="auto"/>
<line x1="899" y1="149.0" x2="901.3" y2="149.0" shape-rendering="auto"/>
<line x1="899" y1="182.0" x2="901.3" y2="182.0" shape-rendering="auto"/>
<line x1="899" y1="215.0" x2="901.3" y2="215.0" shape-rendering="auto"/>
<line x1="899" y1="248.0" x2="901.3" y2="248.0" shape-rendering="auto"/>
<line x1="899" y1="281.0" x2="901.3" y2="281.0" shape-rendering="auto"/>
<line x1="899" y1="314.0" x2="901.3" y2="314.0" shape-rendering="auto"/>
<line x1="899" y1="347.0" x2="901.3" y2="347.0" shape-rendering="auto"/>
<line x1="899" y1="380.0" x2="901.3" y2="380.0" shape-rendering="auto"/>
<line x1="899" y1="413.0" x2="901.3" y2="413.0" shape-rendering="auto"/>
<line x1="899" y1="446.0" x2="901.3" y2="446.0" shape-rendering="auto"/>
<line x1="899" y1="479.0" x2="901.3" y2="479.0" shape-rendering="auto"/>
<line x1="899" y1="512.0" x2="901.3" y2="512.0" shape-rendering="auto"/>
<line x1="6.5" y1="531" x2="6.5" y2="533"/>
<line x1="55.5" y1="531" x2="55.5" y2="533"/>
<line x1="104.5" y1="531" x2="104.5" y2="533"/>
<line x1="152.5" y1="531" x2="152.5" y2="533"/>
<line x1="201.5" y1="531" x2="201.5" y2="533"/>
<line x1="250.5" y1="531" x2="250.5" y2="533"/>
<line x1="299.5" y1="531" x2="299.5" y2="533"/>
<line x1="348.5" y1="531" x2="348.5" y2="533"/>
<line x1="397.5" y1="531" x2="397.5" y2="533"/>
<line x1="446.5" y1="531" x2="446.5" y2="533"/>
<line x1="495.5" y1="531" x2="495.5" y2="533"/>
<line x1="544.5" y1="531" x2="544.5" y2="533"/>
<line x1="593.5" y1="531" x2="593.5" y2="533"/>
<line x1="641.5" y1="531" x2="641.5" y2="533"/>
<line x1="690.5" y1="531" x2="690.5" y2="533"/>
<line x1="739.5" y1="531" x2="739.5" y2="533"/>
<line x1="788.5" y1="531" x2="788.5" y2="533"/>
<line x1="837.5" y1="531" x2="837.5" y2="533"/>
<line x1="886.5" y1="531" x2="886.5" y2="533"/>
</g>
<g fill="#4d4d6b" font-size="9.7" font-weight="bold" opacity="0.85">
<text x="904" y="19.8" textLength="23.6" lengthAdjust="spacingAndGlyphs">2.02200</text>
<text x="904" y="52.8" textLength="23.6" lengthAdjust="spacingAndGlyphs">2.02100</text>
<text x="904" y="85.8" textLength="23.6" lengthAdjust="spacingAndGlyphs">2.02000</text>
<text x="904" y="118.8" textLength="23.6" lengthAdjust="spacingAndGlyphs">2.01900</text>
<text x="904" y="151.8" textLength="23.6" lengthAdjust="spacingAndGlyphs">2.01800</text>
<text x="904" y="184.8" textLength="23.6" lengthAdjust="spacingAndGlyphs">2.01700</text>
<text x="904" y="217.8" textLength="23.6" lengthAdjust="spacingAndGlyphs">2.01600</text>
<text x="904" y="250.8" textLength="23.6" lengthAdjust="spacingAndGlyphs">2.01500</text>
<text x="904" y="283.8" textLength="23.6" lengthAdjust="spacingAndGlyphs">2.01400</text>
<text x="904" y="316.8" textLength="23.6" lengthAdjust="spacingAndGlyphs">2.01300</text>
<text x="904" y="349.8" textLength="23.6" lengthAdjust="spacingAndGlyphs">2.01200</text>
<text x="904" y="382.8" textLength="23.6" lengthAdjust="spacingAndGlyphs">2.01100</text>
<text x="904" y="415.8" textLength="23.6" lengthAdjust="spacingAndGlyphs">2.01000</text>
<text x="904" y="448.8" textLength="23.6" lengthAdjust="spacingAndGlyphs">2.00900</text>
<text x="904" y="481.8" textLength="23.6" lengthAdjust="spacingAndGlyphs">2.00800</text>
<text x="904" y="514.8" textLength="23.6" lengthAdjust="spacingAndGlyphs">2.00700</text>
<text x="-1.5" y="544.2" textLength="16.4" lengthAdjust="spacingAndGlyphs">10:30</text>
<text x="47.4" y="544.2" textLength="16.4" lengthAdjust="spacingAndGlyphs">12:00</text>
<text x="96.3" y="544.2" textLength="16.4" lengthAdjust="spacingAndGlyphs">13:30</text>
<text x="145.2" y="544.2" textLength="16.4" lengthAdjust="spacingAndGlyphs">15:00</text>
<text x="194.1" y="544.2" textLength="16.4" lengthAdjust="spacingAndGlyphs">16:30</text>
<text x="243.0" y="544.2" textLength="16.4" lengthAdjust="spacingAndGlyphs">18:00</text>
<text x="291.9" y="544.2" textLength="16.4" lengthAdjust="spacingAndGlyphs">19:30</text>
<text x="340.8" y="544.2" textLength="16.4" lengthAdjust="spacingAndGlyphs">21:00</text>
<text x="389.7" y="544.2" textLength="16.4" lengthAdjust="spacingAndGlyphs">22:30</text>
<text x="443.4" y="544.2" textLength="6.8" lengthAdjust="spacingAndGlyphs">21</text>
<text x="487.5" y="544.2" textLength="16.4" lengthAdjust="spacingAndGlyphs">01:30</text>
<text x="536.4" y="544.2" textLength="16.4" lengthAdjust="spacingAndGlyphs">03:00</text>
<text x="585.3" y="544.2" textLength="16.4" lengthAdjust="spacingAndGlyphs">04:30</text>
<text x="634.2" y="544.2" textLength="16.4" lengthAdjust="spacingAndGlyphs">06:00</text>
<text x="683.1" y="544.2" textLength="16.4" lengthAdjust="spacingAndGlyphs">07:30</text>
<text x="732.0" y="544.2" textLength="16.4" lengthAdjust="spacingAndGlyphs">09:00</text>
<text x="780.9" y="544.2" textLength="16.4" lengthAdjust="spacingAndGlyphs">10:30</text>
<text x="829.8" y="544.2" textLength="16.4" lengthAdjust="spacingAndGlyphs">12:00</text>
<text x="878.7" y="544.2" textLength="16.4" lengthAdjust="spacingAndGlyphs">13:30</text>
</g>
<rect x="899" y="265.2" width="33" height="12" fill="#1212f0"/>
<line x1="898" y1="271.6" x2="902" y2="271.6" stroke="#fff" stroke-width="1"/>
<text x="904" y="274.4" font-size="9.8" font-weight="bold" fill="#fff" textLength="23.6" lengthAdjust="spacingAndGlyphs">2.01429</text>
<rect x="899" y="307.8" width="33" height="11.9" fill="#26a69a"/>
<line x1="898" y1="314.2" x2="901.5" y2="314.2" stroke="#fff" stroke-width="1"/>
<text x="904" y="317.1" font-size="9.8" font-weight="bold" fill="#fff" textLength="23.6" lengthAdjust="spacingAndGlyphs">2.01300</text>
<rect x="908.5" y="321" width="23.5" height="12.2" fill="#26a69a"/>
<text x="912" y="330.5" font-size="9.8" font-weight="bold" fill="#fff" textLength="16.6" lengthAdjust="spacingAndGlyphs">08:46</text>
<rect x="480.5" y="530.5" width="62.3" height="17" fill="#fb0d1b"/>
<text x="484.3" y="543" font-size="9.4" font-weight="bold" fill="#fff" textLength="31.7" lengthAdjust="spacingAndGlyphs">21 Nov '19</text>
<text x="524" y="543" font-size="9.4" font-weight="bold" fill="#fff" textLength="16.2" lengthAdjust="spacingAndGlyphs">02:00</text>
</svg></body></html>
